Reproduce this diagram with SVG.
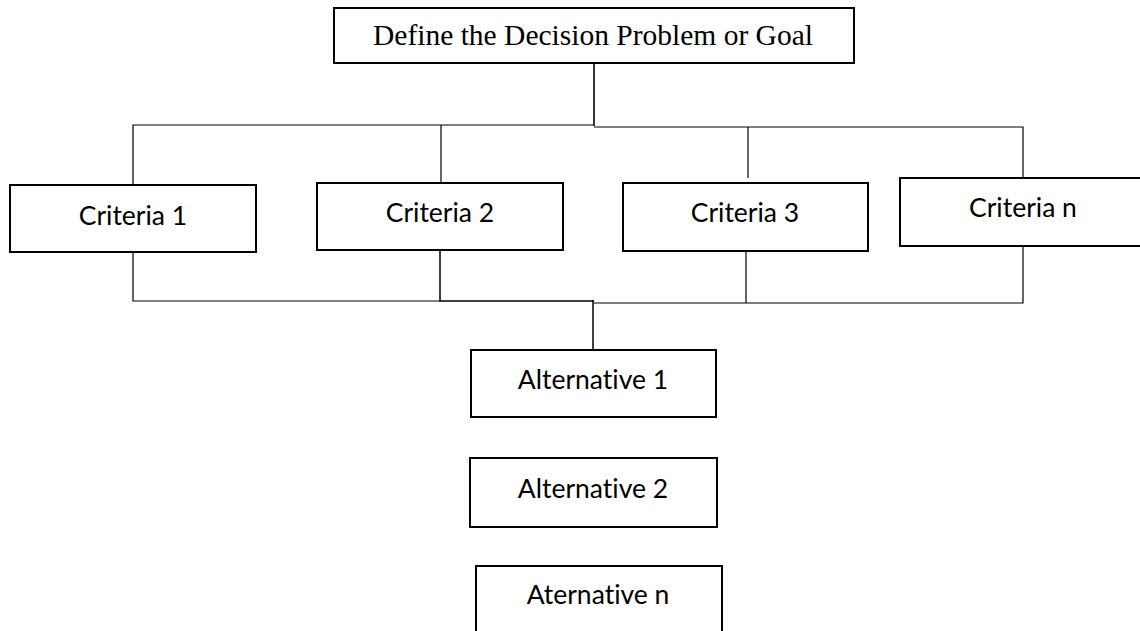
<svg xmlns="http://www.w3.org/2000/svg" width="1140" height="631" viewBox="0 0 1140 631">
<style>
.box{fill:#fff;stroke:#000;stroke-width:2}
.ln{fill:none;stroke:#000;stroke-width:1.2}
.t{font-family:Lato,"Open Sans",sans-serif;font-size:26.5px;fill:#000;text-anchor:middle;font-variant-ligatures:none;font-feature-settings:"liga" 0,"clig" 0,"dlig" 0}
.tt{font-family:"Liberation Serif","Times New Roman",serif;font-size:29.5px;fill:#000;text-anchor:middle}
</style>
<rect width="1140" height="631" fill="#fff"/>
<g id="connectors">
<path class="ln" d="M594,63 V126" style="stroke-width:1.6"/>
<path class="ln" d="M133,185 V125 H594"/>
<path class="ln" d="M594,127 H1023 V178"/>
<path class="ln" d="M441,125 V183"/>
<path class="ln" d="M748,127 V178"/>
<path class="ln" d="M133,252 V301 H440"/>
<path class="ln" d="M440,250 V301 H594" style="stroke-width:1.5"/>
<path class="ln" d="M594,303 H1023 V246"/>
<path class="ln" d="M746,251 V303"/>
<path class="ln" d="M593,300 V350" style="stroke-width:1.5"/>
</g>
<g id="goal">
<rect class="box" x="334" y="8" width="520" height="55"/>
<text class="tt" x="593" y="45">Define the Decision Problem or Goal</text>
</g>
<g id="criteria1">
<rect class="box" x="10" y="185" width="246" height="67"/>
<text class="t" x="133" y="225">Criteria 1</text>
</g>
<g id="criteria2">
<rect class="box" x="317" y="183" width="246" height="67"/>
<text class="t" x="440" y="222">Criteria 2</text>
</g>
<g id="criteria3">
<rect class="box" x="623" y="183" width="245" height="68"/>
<text class="t" x="745" y="222">Criteria 3</text>
</g>
<g id="criterian">
<rect class="box" x="900" y="178" width="248" height="68"/>
<text class="t" x="1023" y="217">Criteria n</text>
</g>
<g id="alternative1">
<rect class="box" x="471" y="350" width="245" height="67"/>
<text class="t" x="593" y="389">Alternative 1</text>
</g>
<g id="alternative2">
<rect class="box" x="470" y="458" width="247" height="69"/>
<text class="t" x="593" y="498">Alternative 2</text>
</g>
<g id="alternativen">
<rect class="box" x="476" y="566" width="246" height="80"/>
<text class="t" x="598" y="604">Aternative n</text>
</g>
</svg>
